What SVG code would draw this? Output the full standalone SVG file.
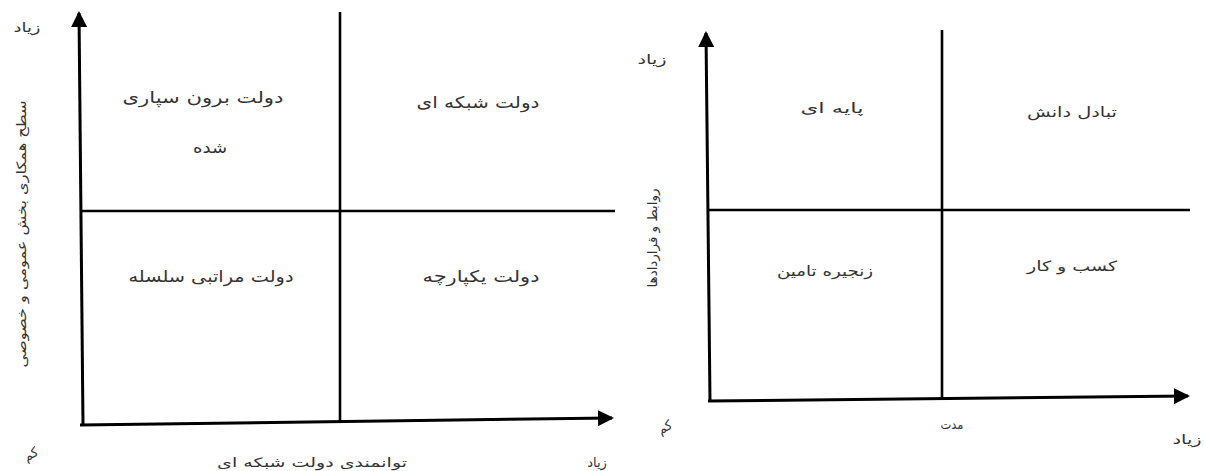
<svg xmlns="http://www.w3.org/2000/svg" width="1205" height="471" viewBox="0 0 1205 471">
<style>
.ax{stroke:#000;stroke-width:3;fill:none}
.dv{stroke:#000;stroke-width:2.6;fill:none}
.q{font-family:"DejaVu Sans",sans-serif;font-size:16px;fill:#333;text-anchor:middle;direction:rtl}
.qs{font-family:"DejaVu Sans",sans-serif;font-size:14px;fill:#333;text-anchor:middle;direction:rtl}
.l{font-family:"DejaVu Sans",sans-serif;font-size:13px;fill:#333;text-anchor:middle;direction:rtl}
</style>
<defs>
<marker id="ah" viewBox="0 0 16 16" refX="14" refY="8" markerWidth="16" markerHeight="16" markerUnits="userSpaceOnUse" orient="auto">
<path d="M0,0 L16,8 L0,16 z" fill="#000"/>
</marker>
</defs>
<rect width="1205" height="471" fill="#fff"/>
<g id="connectors">
<line class="ax" x1="83" y1="425" x2="79" y2="13" marker-end="url(#ah)"/>
<line class="ax" x1="80" y1="425" x2="612" y2="418" marker-end="url(#ah)"/>
<line class="dv" x1="340" y1="12" x2="340" y2="421"/>
<line class="dv" x1="80" y1="211" x2="615" y2="211"/>
<line class="ax" x1="710" y1="401" x2="706" y2="33" marker-end="url(#ah)"/>
<line class="ax" x1="708" y1="401" x2="1188" y2="396" marker-end="url(#ah)"/>
<line class="dv" x1="942" y1="30" x2="942" y2="398"/>
<line class="dv" x1="707" y1="210" x2="1190" y2="210"/>
</g>
<g id="left-axis-labels">
<text class="l" x="27" y="32" textLength="27" lengthAdjust="spacingAndGlyphs">زیاد</text>
<text class="l" transform="translate(26,234) rotate(-90)" textLength="267" lengthAdjust="spacingAndGlyphs">سطح همکاری بخش عمومی و خصوصی</text>
<text class="l" transform="translate(33,458) rotate(-30)">کم</text>
<text class="l" x="312" y="467" textLength="190" lengthAdjust="spacingAndGlyphs">توانمندی دولت شبکه ای</text>
<text class="l" x="597" y="467">زیاد</text>
</g>
<g id="q-outsourced"><text class="q" x="203" y="103" textLength="161" lengthAdjust="spacingAndGlyphs">دولت برون سپاری</text><text class="q" x="210" y="153" textLength="34" lengthAdjust="spacingAndGlyphs">شده</text></g>
<g id="q-network"><text class="q" x="478" y="108" textLength="123" lengthAdjust="spacingAndGlyphs">دولت شبکه ای</text></g>
<g id="q-hierarchy"><text class="q" x="211" y="282" textLength="165" lengthAdjust="spacingAndGlyphs">دولت مراتبی سلسله</text></g>
<g id="q-integrated"><text class="q" x="481" y="282" textLength="117" lengthAdjust="spacingAndGlyphs">دولت یکپارچه</text></g>
<g id="right-axis-labels">
<text class="l" x="652" y="64" textLength="29" lengthAdjust="spacingAndGlyphs">زیاد</text>
<text class="l" transform="translate(657,238) rotate(-90)" textLength="99" lengthAdjust="spacingAndGlyphs">روابط و قراردادها</text>
<text class="l" transform="translate(667,431) rotate(-30)">کم</text>
<text class="l" x="952" y="429" textLength="23" lengthAdjust="spacingAndGlyphs">مدت</text>
<text class="l" x="1187" y="444" textLength="29" lengthAdjust="spacingAndGlyphs">زیاد</text>
</g>
<g id="q-base"><text class="qs" x="832" y="113" textLength="63" lengthAdjust="spacingAndGlyphs">پایه ای</text></g>
<g id="q-knowledge"><text class="qs" x="1072" y="117" textLength="90" lengthAdjust="spacingAndGlyphs">تبادل دانش</text></g>
<g id="q-supply"><text class="qs" x="825" y="276" textLength="96" lengthAdjust="spacingAndGlyphs">زنجیره تامین</text></g>
<g id="q-business"><text class="qs" x="1072" y="271" textLength="90" lengthAdjust="spacingAndGlyphs">کسب و کار</text></g>
</svg>
